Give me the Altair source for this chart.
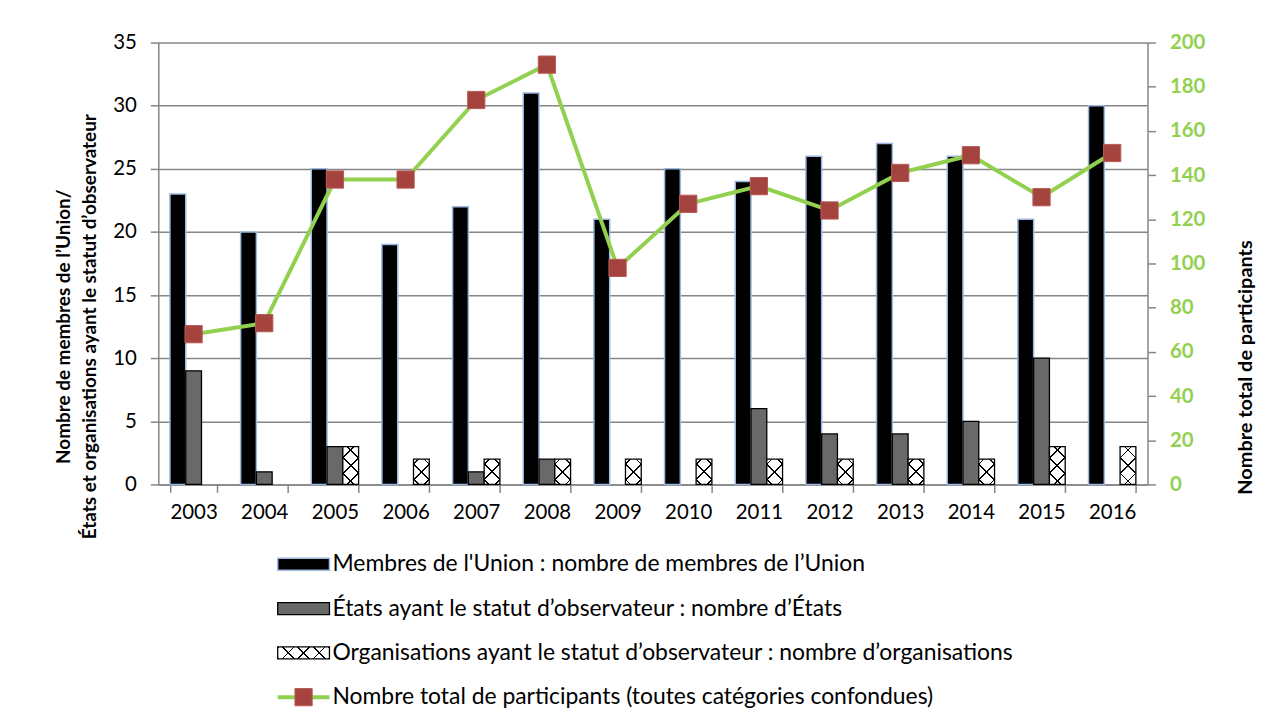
import math
import altair as alt
import pandas as pd

# ---------------- data ----------------
annees = [str(y) for y in range(2003, 2017)]
membres = [23, 20, 25, 19, 22, 31, 21, 25, 24, 26, 27, 26, 21, 30]
etats = [9, 1, 3, 0, 1, 2, 0, 0, 6, 4, 4, 5, 10, 0]
organisations = [0, 0, 3, 2, 2, 2, 2, 2, 2, 2, 2, 2, 3, 3]
total = [68, 73, 138, 138, 174, 190, 98, 127, 135, 124, 141, 149, 130, 150]

legende = [
    "Membres de l'Union : nombre de membres de l\u2019Union",
    "\u00c9tats ayant le statut d\u2019observateur : nombre d\u2019\u00c9tats",
    "Organisations ayant le statut d\u2019observateur : nombre d\u2019organisations",
    "Nombre total de participants (toutes cat\u00e9gories confondues)",
]
titre_gauche = ["Nombre de membres de l\u2019Union/",
                "\u00c9tats et organisations ayant le statut d\u2019observateur"]
titre_droite = "Nombre total de participants"

# ---------------- style ----------------
W, H = 994, 444
YMAX_L, YMAX_R = 35, 200
PAD_IN, PAD_OUT = 0.33, 0.165
FONT = "Lato"
TICK_FS = 20.5
LEG_FS = 23
GREY = "#868686"
GREEN = "#92D050"
RED = "#A5443F"
series = ["membres", "etats", "organisations"]

rows = []
for i, a in enumerate(annees):
    for s, vals in zip(series, [membres, etats, organisations]):
        rows.append({"annee": a, "serie": s, "valeur": vals[i]})
bars_df = pd.DataFrame(rows)
bars_df = bars_df[bars_df.valeur > 0]
line_df = pd.DataFrame({"annee": annees, "total": total})
leg_df = pd.DataFrame({"ordre": list(range(len(legende))), "libelle": legende})


def hatch(w, h, period, lw, slash, ink="black"):
    """Diagonal stripes at 45 degrees inside a w x h box (bbox gradient)."""
    k = (w + h) / (w * w + h * h)
    if slash:
        x1, y1, x2, y2 = 0, 0, k * w, k * h
    else:
        x1, y1, x2, y2 = 0, 1, k * w, 1 - k * h
    step = math.sqrt(2) * period / (w + h)
    half = lw / (math.sqrt(2) * (w + h))
    clear = "rgba(0,0,0,0)"
    stops = [alt.GradientStop(offset=0, color=clear)]
    centers = sorted(0.5 + j * step for j in range(-40, 41)
                     if -half < 0.5 + j * step < 1 + half)
    for c in centers:
        a, b = max(c - half, 0), min(c + half, 1)
        stops += [alt.GradientStop(offset=a, color=clear),
                  alt.GradientStop(offset=a, color=ink),
                  alt.GradientStop(offset=b, color=ink),
                  alt.GradientStop(offset=b, color=clear)]
    stops.append(alt.GradientStop(offset=1, color=clear))
    return alt.Gradient(gradient="linear", stops=stops, x1=x1, y1=y1, x2=x2, y2=y2)


# ---------------- encodings ----------------
x_enc = alt.X(
    "annee:N", sort=annees,
    scale=alt.Scale(domain=annees, paddingInner=PAD_IN, paddingOuter=PAD_OUT),
    axis=alt.Axis(title=None, tickBand="extent", tickSize=8, labelAngle=0,
                  labelFontSize=TICK_FS, labelPadding=10, labelColor="black",
                  domainColor=GREY, tickColor=GREY, domainWidth=1.5, tickWidth=1.5),
)
xo_enc = alt.XOffset("serie:N", scale=alt.Scale(domain=series, paddingInner=0, paddingOuter=0))
y_enc = alt.Y(
    "valeur:Q", scale=alt.Scale(domain=[0, YMAX_L], nice=False),
    axis=alt.Axis(values=list(range(0, YMAX_L + 1, 5)), grid=True, gridColor=GREY,
                  gridWidth=1.5, tickSize=8, tickColor=GREY, domainColor=GREY,
                  domainWidth=1.5, tickWidth=1.5,
                  labelFontSize=TICK_FS, labelPadding=14, labelColor="black",
                  title=titre_gauche, titleFontSize=19, titleFontWeight="bold",
                  titleLineHeight=26, titlePadding=13, titleColor="black",
                  titleY=285),
)

bar_w = W / len(annees) * (1 - PAD_IN) / len(series)
unit_px = H / YMAX_L

m_bars = alt.Chart(bars_df).transform_filter("datum.serie == 'membres'").mark_bar(
    fill="black", stroke="#9DB8E0", strokeWidth=1.5).encode(x=x_enc, xOffset=xo_enc, y=y_enc)

e_bars = alt.Chart(bars_df).transform_filter("datum.serie == 'etats'").mark_bar(
    fill="#696969", stroke="black", strokeWidth=1.3).encode(x=x_enc, xOffset=xo_enc, y=y_enc)

o_layers = []
for v in sorted(set(o for o in organisations if o > 0)):
    base = alt.Chart(bars_df).transform_filter(
        f"datum.serie == 'organisations' && datum.valeur == {v}")
    hpx = v * unit_px
    o_layers.append(base.mark_bar(fill="white", strokeWidth=0).encode(
        x=x_enc, xOffset=xo_enc, y=y_enc))
    o_layers.append(base.mark_bar(fill=hatch(bar_w, hpx, 11, 1.3, False), strokeWidth=0).encode(
        x=x_enc, xOffset=xo_enc, y=y_enc))
    o_layers.append(base.mark_bar(fill=hatch(bar_w, hpx, 11, 1.3, True),
                                  stroke="black", strokeWidth=1.3).encode(
        x=x_enc, xOffset=xo_enc, y=y_enc))

bars = alt.layer(m_bars, e_bars, *o_layers)

y_right = alt.Y(
    "total:Q", scale=alt.Scale(domain=[0, YMAX_R], nice=False),
    axis=alt.Axis(orient="right", values=list(range(0, YMAX_R + 1, 20)), grid=False,
                  tickSize=8, tickColor=GREY, domainColor=GREY, domainWidth=1.5, tickWidth=1.5,
                  labelFontSize=TICK_FS, labelFontWeight="bold", labelColor=GREEN, labelPadding=14,
                  title=titre_droite, titleFontSize=20, titleFontWeight="bold",
                  titleAngle=270, titlePadding=51, titleColor="black", titleY=326),
)
line = alt.Chart(line_df).mark_line(color=GREEN, strokeWidth=4).encode(x=x_enc, y=y_right)
pts = alt.Chart(line_df).mark_point(shape="square", filled=True, size=300, fill=RED,
                                    stroke="#B85A56", strokeWidth=1, opacity=1).encode(
    x=x_enc, y=y_right)

main = alt.layer(bars, alt.layer(line, pts)).resolve_scale(y="independent").properties(
    width=W, height=H)

# ---------------- legend panel ----------------
LEG_H = 178
ly = alt.Y("ordre:O", axis=None, scale=alt.Scale(paddingInner=0, paddingOuter=0))
SX0, SX1, TX = 120, 172, 175
lb = alt.Chart(leg_df)
leg_layers = [
    lb.transform_filter("datum.ordre == 0").mark_bar(
        orient="horizontal", size=12, fill="black", stroke="#9DB8E0", strokeWidth=1.5).encode(
        x=alt.value(SX0), x2=alt.value(SX1), y=ly),
    lb.transform_filter("datum.ordre == 1").mark_bar(
        orient="horizontal", size=12, fill="#696969", stroke="black", strokeWidth=1.3).encode(
        x=alt.value(SX0), x2=alt.value(SX1), y=ly),
    lb.transform_filter("datum.ordre == 2").mark_bar(
        orient="horizontal", size=12, fill="white", strokeWidth=0).encode(
        x=alt.value(SX0), x2=alt.value(SX1), y=ly),
    lb.transform_filter("datum.ordre == 2").mark_bar(
        orient="horizontal", size=12, fill=hatch(SX1 - SX0, 12, 11, 1.3, False), strokeWidth=0).encode(
        x=alt.value(SX0), x2=alt.value(SX1), y=ly),
    lb.transform_filter("datum.ordre == 2").mark_bar(
        orient="horizontal", size=12, fill=hatch(SX1 - SX0, 12, 11, 1.3, True),
        stroke="black", strokeWidth=1.3).encode(
        x=alt.value(SX0), x2=alt.value(SX1), y=ly),
    lb.transform_filter("datum.ordre == 3").mark_rule(color=GREEN, strokeWidth=4).encode(
        x=alt.value(SX0), x2=alt.value(SX1), y=ly),
    lb.transform_filter("datum.ordre == 3").mark_point(
        shape="square", filled=True, size=300, fill=RED, stroke="#B85A56", strokeWidth=1,
        opacity=1).encode(x=alt.value((SX0 + SX1) / 2), y=ly),
    lb.mark_text(align="left", baseline="middle", fontSize=LEG_FS, font=FONT, color="black").encode(
        x=alt.value(TX), y=ly, text="libelle:N"),
]
legend_panel = alt.layer(*leg_layers).properties(width=W, height=LEG_H)

chart = alt.vconcat(main, legend_panel, spacing=58, bounds="flush").properties(
    padding={"top": 23, "left": 47, "right": 0, "bottom": 0}
).configure_view(strokeWidth=0).configure_axis(
    labelFont=FONT, titleFont=FONT
).configure_text(font=FONT)

chart.save("out.html", embed_options={"renderer": "svg", "actions": False})
